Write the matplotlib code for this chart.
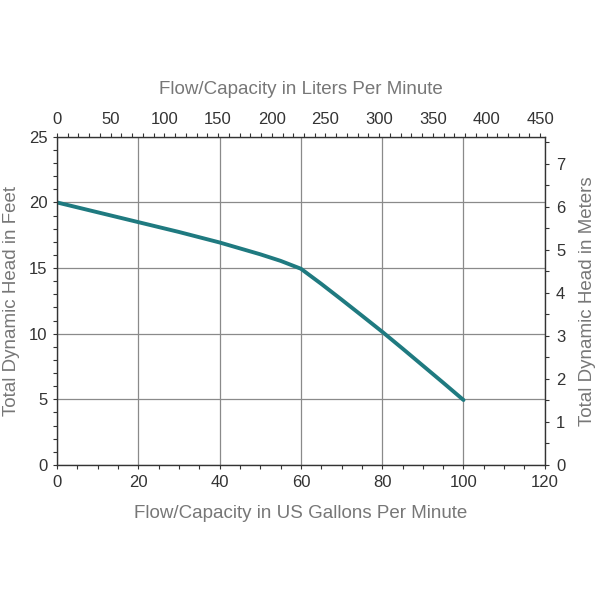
import matplotlib.pyplot as plt
import numpy as np
from matplotlib.ticker import MultipleLocator

# pump curve
gpm = [0, 10, 20, 30, 40, 50, 55, 60, 65, 70, 75, 80, 85, 90, 95, 100]
head_ft = [20, 19.25, 18.5, 17.75, 16.95, 16.05, 15.55, 14.95, 13.8, 12.6,
           11.38, 10.15, 8.87, 7.57, 6.27, 4.95]

gpm_ticks = [0, 20, 40, 60, 80, 100, 120]
ft_ticks = [0, 5, 10, 15, 20, 25]
lpm_ticks = [0, 50, 100, 150, 200, 250, 300, 350, 400, 450]
m_ticks = [0, 1, 2, 3, 4, 5, 6, 7]

GAL_TO_L = 3.78541
FT_TO_M = 0.3048

plt.rcParams['font.family'] = ['Liberation Sans', 'DejaVu Sans']
label_col = '#777777'
tick_col = '#333333'
tick_size = 12
label_size = 13.5

fig = plt.figure(figsize=(6, 6), dpi=100)
ax = fig.add_axes([0.095, 0.225, 0.813, 0.547])

ax.plot(gpm, head_ft, color='#1f7a80', lw=2.8, solid_capstyle='round',
        solid_joinstyle='round')

ax.set_xlim(0, 120)
ax.set_ylim(0, 25)
ax.set_xticks(gpm_ticks)
ax.set_yticks(ft_ticks)
ax.xaxis.set_minor_locator(MultipleLocator(5))
ax.yaxis.set_minor_locator(MultipleLocator(1))
ax.grid(True, which='major', color='#8a8a8a', lw=0.9)

for s in ax.spines.values():
    s.set_color('#333333')
    s.set_linewidth(1.0)

ax.tick_params(which='both', direction='out', colors=tick_col,
               labelsize=tick_size, width=0.8, length=3, pad=4)

ax.set_xlabel('Flow/Capacity in US Gallons Per Minute', fontsize=label_size,
              color=label_col, labelpad=11)
ax.set_ylabel('Total Dynamic Head in Feet', fontsize=label_size,
              color=label_col, labelpad=6)

# top axis: liters per minute
top = ax.twiny()
top.set_xlim(0, 120 * GAL_TO_L)
top.set_xticks(lpm_ticks)
top.xaxis.set_minor_locator(MultipleLocator(10))
top.tick_params(which='both', direction='out', colors=tick_col,
                labelsize=tick_size, width=0.8, length=3, pad=4)
top.set_xlabel('Flow/Capacity in Liters Per Minute', fontsize=label_size,
               color=label_col, labelpad=13)
for s in top.spines.values():
    s.set_visible(False)

# right axis: meters
right = ax.twinx()
right.set_ylim(0, 25 * FT_TO_M)
right.set_yticks(m_ticks)
right.yaxis.set_minor_locator(MultipleLocator(0.5))
right.tick_params(which='both', direction='out', colors=tick_col,
                  labelsize=tick_size, width=0.8, length=3, pad=5)
right.set_ylabel('Total Dynamic Head in Meters', fontsize=label_size,
                 color=label_col, labelpad=10)
for s in right.spines.values():
    s.set_visible(False)

fig.savefig('out.png', dpi=100)
